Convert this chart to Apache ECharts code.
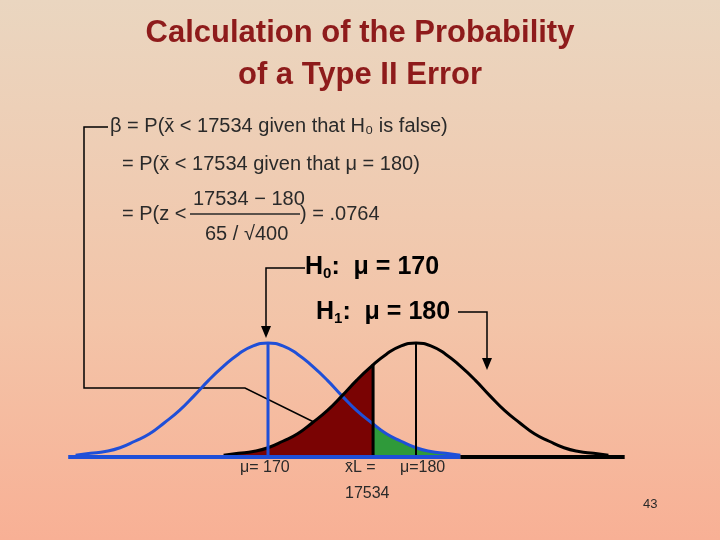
<!DOCTYPE html>
<html>
<head>
<meta charset="utf-8">
<script src="https://cdn.jsdelivr.net/npm/echarts@6/dist/echarts.min.js"></script>
<style>
  html, body { margin: 0; padding: 0; }
  body { width: 720px; height: 540px; background: linear-gradient(to bottom, #ead6c0 0%, #f3c4a8 60%, #f8b095 100%); }
  #chart { width: 720px; height: 540px; }
</style>
</head>
<body>
<div id="chart"></div>
<script>
// curve heights, one unit apart, left tail -> right tail
const offsets = [-13, -12, -11, -10, -9, -8, -7, -6, -5, -4, -3, -2, -1, 0, 1, 2, 3, 4, 5, 6, 7, 8, 9, 10, 11, 12, 13]
const heights = [0.002, 0.004, 0.006, 0.010, 0.017, 0.025, 0.037, 0.050, 0.066, 0.083, 0.098, 0.111, 0.120, 0.123,
                 0.120, 0.111, 0.098, 0.083, 0.066, 0.050, 0.037, 0.025, 0.017, 0.010, 0.006, 0.004, 0.002]
const mu0 = 170
const mu1 = 180
const xL = 177.1
const hBlackAtXL = 0.0997
const hBlueAtXL = 0.0353

const blueCurve = offsets.map((d, i) => [mu0 + d, heights[i]])
const blackCurve = offsets.map((d, i) => [mu1 + d, heights[i]])
const redArea = blackCurve.filter(p => p[0] < xL).concat([[xL, hBlackAtXL], [xL, 0]])
const greenArea = [[xL, 0], [xL, hBlueAtXL]].concat(blueCurve.filter(p => p[0] > xL))

const chart = echarts.init(document.getElementById('chart'), null, { renderer: 'canvas' })

const font = 'Liberation Sans, Arial, sans-serif'
const fg = '#2a2a2a'

function txt(x, y, text, size, extra) {
  return { type: 'text', left: x, top: y, style: Object.assign({ text: text, fontSize: size, fontFamily: font, fill: fg }, extra || {}) }
}
function title(y, text) {
  return { type: 'text', left: 'center', top: y, style: { text: text, fontSize: 31, fontWeight: 'bold', fontFamily: font, fill: '#8e1b1b' } }
}
function line(points, w) {
  return { type: 'polyline', shape: { points: points }, style: { stroke: '#000', lineWidth: w || 1.5, fill: null } }
}
function head(x, y, dir) {
  let pts
  if (dir === 'down') pts = [[x - 5, y - 12], [x + 5, y - 12], [x, y]]
  else pts = [[x - 12, y - 9], [x - 5, y - 14], [x, y]]
  return { type: 'polygon', shape: { points: pts }, style: { fill: '#000' } }
}
const hRich = {
  b: { fontSize: 25, fontWeight: 'bold', fontFamily: font },
  s: { fontSize: 15, fontWeight: 'bold', fontFamily: font, verticalAlign: 'bottom', padding: [12, 0, 0, 0] }
}

let option = {
  animation: false,
  grid: { left: 46, right: 8, top: 318, bottom: 83 },
  xAxis: { type: 'value', min: 155, max: 200, show: false },
  yAxis: { type: 'value', min: 0, max: 0.15, show: false },
  series: [
    { type: 'line', data: redArea, smooth: 0.3, symbol: 'none', lineStyle: { width: 0 }, areaStyle: { color: '#7a0303', opacity: 1 } },
    { type: 'line', data: greenArea, smooth: 0.3, symbol: 'none', lineStyle: { width: 0 }, areaStyle: { color: '#2f9a3a', opacity: 1 } },
    { type: 'line', data: blueCurve, smooth: true, symbol: 'none', lineStyle: { color: '#1f4fd8', width: 3 } },
    { type: 'line', data: blackCurve, smooth: true, symbol: 'none', lineStyle: { color: '#000', width: 3 } },
    { type: 'line', data: [[mu0, 0], [mu0, heights[13]]], symbol: 'none', lineStyle: { color: '#1f4fd8', width: 3 } },
    { type: 'line', data: [[mu1, 0], [mu1, heights[13]]], symbol: 'none', lineStyle: { color: '#000', width: 2 } },
    { type: 'line', data: [[xL, 0], [xL, hBlackAtXL]], symbol: 'none', lineStyle: { color: '#000', width: 3 } },
    { type: 'line', data: [[156.5, 0], [183, 0]], symbol: 'none', lineStyle: { color: '#1f4fd8', width: 4 } },
    { type: 'line', data: [[183, 0], [194.1, 0]], symbol: 'none', lineStyle: { color: '#000', width: 4 } }
  ],
  graphic: [
    title(18, 'Calculation of the Probability'),
    title(60, 'of a Type II Error'),
    txt(110, 116, 'β = P(x̄ < 17534 given that H₀ is false)', 20),
    txt(122, 154, '= P(x̄ < 17534 given that μ = 180)', 20),
    txt(122, 204, '= P(z <', 20),
    txt(193, 189, '17534 − 180', 20),
    { type: 'line', shape: { x1: 190, y1: 214, x2: 300, y2: 214 }, style: { stroke: fg, lineWidth: 1.5 } },
    txt(205, 224, '65 / √400', 20),
    txt(300, 204, ') = .0764', 20),
    { type: 'text', left: 305, top: 255, style: { text: '{b|H}{s|0}{b|:  μ = 170}', fontFamily: font, fill: '#000', rich: hRich } },
    { type: 'text', left: 316, top: 300, style: { text: '{b|H}{s|1}{b|:  μ = 180}', fontFamily: font, fill: '#000', rich: hRich } },
    line([[108, 127], [84, 127], [84, 388], [245, 388], [330, 430]]),
    head(330, 430, 'diag'),
    line([[305, 268], [266, 268], [266, 334]]),
    head(266, 338, 'down'),
    line([[458, 312], [487, 312], [487, 366]]),
    head(487, 370, 'down'),
    txt(240, 460, 'μ= 170', 16),
    txt(345, 460, 'x̄L =', 16),
    txt(345, 486, '17534', 16),
    txt(400, 460, 'μ=180', 16),
    txt(643, 498, '43', 13)
  ]
}

chart.setOption(option)
</script>
</body>
</html>
